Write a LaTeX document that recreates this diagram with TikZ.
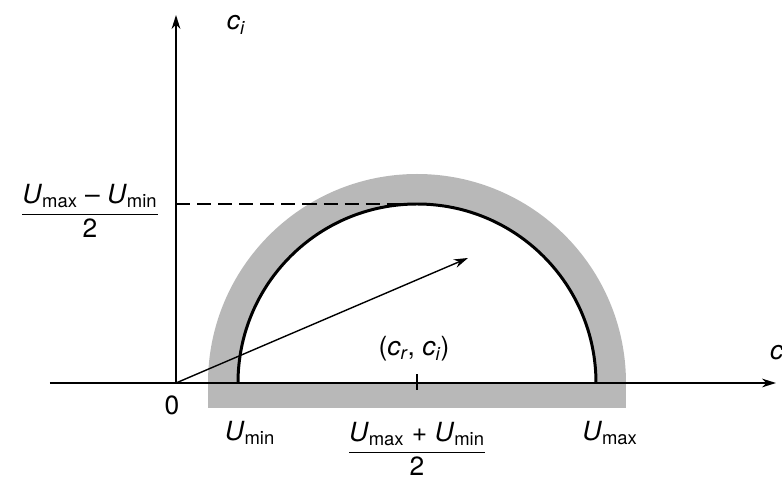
\documentclass[tikz,border=0pt]{standalone}
\usepackage{fontspec}
\setmainfont{TeX Gyre Heros}
\usepackage{amsmath}
\usetikzlibrary{arrows.meta,positioning}
\newcommand{\Uval}[1]{\textit{U}\textsubscript{#1}}

\begin{document}
\begin{tikzpicture}[x=0.02cm, y=0.02cm, font=\fontsize{15}{17}\selectfont,
  >={Stealth[length=8pt,width=5pt]},
  band/.style={fill=black!28},
  axis/.style={line width=1pt},
  lbl/.style={inner sep=1pt}]
\def\rin{179}
\def\rout{209}
\def\xc{241}
\useasboundingbox (-176,-100) rectangle (606,383);
% shaded band round the circle
\fill[band] (\xc-\rout,-25) rectangle (\xc+\rout,0);
\fill[band] (\xc+\rout,0) arc[start angle=0, end angle=180, radius=\rout]
  -- (\xc-\rin,0) arc[start angle=180, end angle=0, radius=\rin] -- cycle;
\draw[line width=1.7pt] (\xc+\rin,0) arc[start angle=0, end angle=180, radius=\rin];
% axes
\coordinate (O) at (0,0);
\coordinate (xl) at (-126,0);
\coordinate (xr) at (600,0);
\coordinate (yt) at (0,368);
\draw[axis,->] (xl) -- (xr);
\draw[axis,->] (O) -- (yt);
% radius level and centre tick
\coordinate (ym) at (0,\rin);
\coordinate (top) at (\xc,\rin);
\draw[line width=0.8pt, dash pattern=on 8pt off 4pt] (ym) -- (top);
\coordinate (tickb) at (\xc,-7);
\coordinate (tickt) at (\xc,9);
\draw[line width=1pt] (tickb) -- (tickt);
% wave velocity vector
\coordinate (P) at (292,125);
\draw[line width=0.8pt,->] (O) -- (P);
% labels
\node[lbl] (ci) at (60,358) {\textit{c\textsubscript{i}}};
\node[lbl, anchor=west] (cr) at (592,30) {\textit{c}};
\node[lbl] (zero) at (-4,-22) {0};
\node[lbl] (umin) at (74,-50) {\Uval{min}};
\node[lbl] (umax) at (434,-50) {\Uval{max}};
\node[lbl] (umid) at (\xc,-66) {$\dfrac{\text{\Uval{max} + \Uval{min}}}{\text{2}}$};
\node[lbl] (uhalf) at (-86,172) {$\dfrac{\text{\Uval{max} -- \Uval{min}}}{\text{2}}$};
\node[lbl] (cvec) at (238,34) {(\textit{c\textsubscript{r}}, \textit{c\textsubscript{i}})};
\end{tikzpicture}
\end{document}
